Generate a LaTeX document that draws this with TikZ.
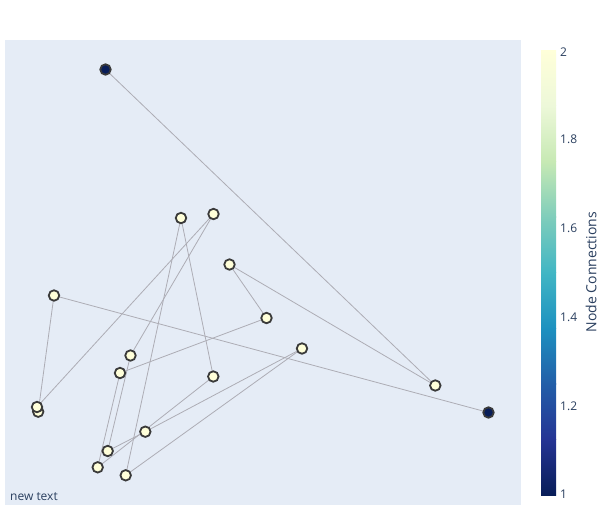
\documentclass[tikz,border=0pt]{standalone}
\usepackage{fontspec}
\setmainfont{Open Sans}
\definecolor{plotbg}{HTML}{E5ECF6}
\definecolor{txt}{HTML}{2A3F5F}
\definecolor{edgec}{HTML}{ADADB5}
\definecolor{ringc}{HTML}{3A3A3A}
\definecolor{lowc}{RGB}{8,29,88}
\definecolor{highc}{RGB}{255,255,217}
\definecolor{cs0}{RGB}{8,29,88}
\definecolor{cs1}{RGB}{37,52,148}
\definecolor{cs2}{RGB}{34,94,168}
\definecolor{cs3}{RGB}{29,145,192}
\definecolor{cs4}{RGB}{65,182,196}
\definecolor{cs5}{RGB}{127,205,187}
\definecolor{cs6}{RGB}{199,233,180}
\definecolor{cs7}{RGB}{237,248,217}
\definecolor{cs8}{RGB}{255,255,217}
\tikzset{
  gnode/.style={circle, draw=ringc, line width=1.8pt, minimum size=10.5pt, inner sep=0pt},
  twoc/.style={gnode, fill=highc},
  onec/.style={gnode, fill=lowc},
  edgeline/.style={draw=edgec, line width=0.8pt},
  ticklab/.style={anchor=west, text=txt, font=\fontsize{12}{14}\selectfont, inner sep=0pt}
}
\begin{document}
\begin{tikzpicture}[x=1pt,y=-1pt]
\path[use as bounding box, fill=white] (0,0) rectangle (613,525);
\fill[plotbg] (5,40) rectangle (521,505);
% colorbar
\foreach \i/\a/\b in {0/cs0/cs1,1/cs1/cs2,2/cs2/cs3,3/cs3/cs4,4/cs4/cs5,5/cs5/cs6,6/cs6/cs7,7/cs7/cs8}{
  \shade[bottom color=\a, top color=\b] (541,{495-55.625*\i+0.3}) rectangle (556,{495-55.625*(\i+1)});
}
\node[ticklab] (t20) at (560,52) {2};
\node[ticklab] (t18) at (560,139.5) {1.8};
\node[ticklab] (t16) at (560,228.5) {1.6};
\node[ticklab] (t14) at (560,317.5) {1.4};
\node[ticklab] (t12) at (560,406.5) {1.2};
\node[ticklab] (t10) at (560,494) {1};
\node[rotate=90, text=txt, font=\fontsize{14}{16}\selectfont, inner sep=0pt] (cbtitle) at (591,272) {Node Connections};
\node[anchor=west, text=txt, font=\fontsize{12}{14}\selectfont, inner sep=0pt] (note) at (10,496.5) {new text};
% coordinates
\coordinate (pA) at (105.5,69.5);
\coordinate (pB) at (488.5,412.5);
\coordinate (pC) at (181,218);
\coordinate (pD) at (213.5,214);
\coordinate (pE) at (229.5,264.5);
\coordinate (pF) at (54,295.5);
\coordinate (pG) at (266.5,318);
\coordinate (pH) at (302,348.5);
\coordinate (pI) at (130.5,355.5);
\coordinate (pJ) at (120,373);
\coordinate (pK) at (213.3,376.5);
\coordinate (pL) at (435.3,385.5);
\coordinate (pM) at (37,407);
\coordinate (pMM) at (38.2,411.7);
\coordinate (pN) at (145.3,431.7);
\coordinate (pO) at (107.7,451);
\coordinate (pP) at (97.7,467.3);
\coordinate (pQ) at (125.7,475.3);
% edges
\foreach \u/\v in {A/L,L/E,E/G,G/J,J/P,P/K,K/C,C/Q,Q/H,H/N,N/O,O/I,I/D,D/M,M/MM,MM/F,F/B}{
  \draw[edgeline] (p\u) -- (p\v);
}
% nodes
\node[onec] (A) at (pA) {};
\node[onec] (B) at (pB) {};
\foreach \n in {C,D,E,F,G,H,I,J,K,L,MM,M,N,O,P,Q}{
  \node[twoc] (\n) at (p\n) {};
}
\end{tikzpicture}
\end{document}
